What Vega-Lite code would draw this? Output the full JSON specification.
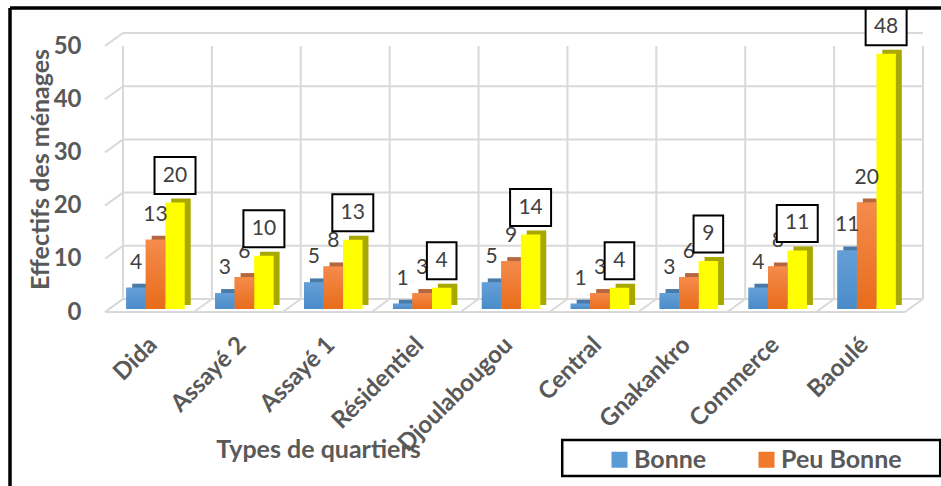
{
"$schema":"https://vega.github.io/schema/vega-lite/v6.json",
"width":800,"height":266,
"autosize":{"type":"none"},
"padding":{"left":105,"top":46,"right":36,"bottom":174},
"background":"white",
"config":{"view":{"stroke":null},"font":"Lato"},
"datasets":{
"boundaries":[{"b":0},{"b":1},{"b":2},{"b":3},{"b":4},{"b":5},{"b":6},{"b":7},{"b":8},{"b":9}],
"levels":[{"v":0,"from":0,"to":9},{"v":10,"from":0,"to":9},{"v":20,"from":0,"to":9},{"v":30,"from":0,"to":9},{"v":40,"from":0,"to":9},{"v":50,"from":0,"to":9}],
"frame":[{"from":0,"to":9,"bottom":0,"top":50}],
"legendbox":[{"b":7,"v":0}],
"rows":[
{"cat":"Dida","serie":"Bonne","n":4},{"cat":"Dida","serie":"Peu Bonne","n":13},{"cat":"Dida","serie":"Série 3","n":20},
{"cat":"Assayé 2","serie":"Bonne","n":3},{"cat":"Assayé 2","serie":"Peu Bonne","n":6},{"cat":"Assayé 2","serie":"Série 3","n":10},
{"cat":"Assayé 1","serie":"Bonne","n":5},{"cat":"Assayé 1","serie":"Peu Bonne","n":8},{"cat":"Assayé 1","serie":"Série 3","n":13},
{"cat":"Résidentiel","serie":"Bonne","n":1},{"cat":"Résidentiel","serie":"Peu Bonne","n":3},{"cat":"Résidentiel","serie":"Série 3","n":4},
{"cat":"Djoulabougou","serie":"Bonne","n":5},{"cat":"Djoulabougou","serie":"Peu Bonne","n":9},{"cat":"Djoulabougou","serie":"Série 3","n":14},
{"cat":"Central","serie":"Bonne","n":1},{"cat":"Central","serie":"Peu Bonne","n":3},{"cat":"Central","serie":"Série 3","n":4},
{"cat":"Gnakankro","serie":"Bonne","n":3},{"cat":"Gnakankro","serie":"Peu Bonne","n":6},{"cat":"Gnakankro","serie":"Série 3","n":9},
{"cat":"Commerce","serie":"Bonne","n":4},{"cat":"Commerce","serie":"Peu Bonne","n":8},{"cat":"Commerce","serie":"Série 3","n":11},
{"cat":"Baoulé","serie":"Bonne","n":11},{"cat":"Baoulé","serie":"Peu Bonne","n":20},{"cat":"Baoulé","serie":"Série 3","n":48}
]},
"resolve":{"scale":{"x":"independent","xOffset":"independent"},"axis":{"y":"independent"}},
"layer":[
{"data":{"name":"legendbox"},"mark":{"type":"point","filled":false,"shape":"M-10.5,-1H10.5V1H-10.5Z","size":1296,"fill":"white","fillOpacity":1,"stroke":"black","strokeWidth":2.5,"opacity":1,"xOffset":24,"yOffset":146},
 "encoding":{"x":{"field":"b","type":"quantitative","scale":{"domain":[0,9],"nice":false,"zero":false},"axis":null},
 "y":{"field":"v","type":"quantitative","scale":{"domain":[0,50],"nice":false},"axis":null}}},
{"data":{"name":"levels"},"mark":{"type":"rule","color":"#D9D9D9","strokeWidth":2,"xOffset":18,"x2Offset":18,"yOffset":-13,"clip":false},
 "encoding":{"x":{"field":"from","type":"quantitative","scale":{"domain":[0,9],"nice":false,"zero":false},"axis":null},"x2":{"field":"to"},
 "y":{"field":"v","type":"quantitative","scale":{"domain":[0,50],"nice":false},"axis":null}}},
{"data":{"name":"boundaries"},"mark":{"type":"rule","color":"#D9D9D9","strokeWidth":2,"xOffset":18,"yOffset":-13},
 "encoding":{"x":{"field":"b","type":"quantitative","scale":{"domain":[0,9],"nice":false,"zero":false},"axis":null},
 "y":{"datum":0,"type":"quantitative","scale":{"domain":[0,50],"nice":false},"axis":null},"y2":{"datum":50}}},
{"data":{"name":"levels"},"mark":{"type":"rule","color":"#D9D9D9","strokeWidth":2,"x2Offset":18,"y2Offset":-13},
 "encoding":{"x":{"field":"from","type":"quantitative","scale":{"domain":[0,9],"nice":false,"zero":false},"axis":null},"x2":{"field":"from"},
 "y":{"field":"v","type":"quantitative","scale":{"domain":[0,50],"nice":false},"axis":null},"y2":{"field":"v"}}},
{"data":{"name":"boundaries"},"mark":{"type":"rule","color":"#D9D9D9","strokeWidth":2,"x2Offset":18,"y2Offset":-13},
 "encoding":{"x":{"field":"b","type":"quantitative","scale":{"domain":[0,9],"nice":false,"zero":false},"axis":null},"x2":{"field":"b"},
 "y":{"datum":0,"type":"quantitative","scale":{"domain":[0,50],"nice":false},"axis":null},"y2":{"datum":0}}},
{"data":{"name":"levels"},"transform":[{"filter":"datum.v==0"}],"mark":{"type":"rule","color":"#D9D9D9","strokeWidth":2},
 "encoding":{"x":{"field":"from","type":"quantitative","scale":{"domain":[0,9],"nice":false,"zero":false},"axis":null},"x2":{"field":"to"},
 "y":{"field":"v","type":"quantitative","scale":{"domain":[0,50],"nice":false},"axis":null}}},
{"data":{"name":"rows"},"mark":{"type":"bar","yOffset":-7},
 "encoding":{
 "x":{"field":"cat","type":"nominal","sort":null,"scale":{"paddingInner":0,"paddingOuter":0},"axis":null},
 "xOffset":{"field":"serie","type":"nominal","scale":{"domain":["Bonne","Peu Bonne","Série 3"],"paddingOuter":0.78,"paddingInner":0,"align":0.895}},
 "y":{"field":"n","type":"quantitative","scale":{"domain":[0,50],"nice":false},"axis":null},
 "fill":{"field":"serie","type":"nominal","legend":null,"scale":{"domain":["Série 3","Peu Bonne","Bonne"],"range":["#A8A800","#B5683F","#4A7BA8"]}}}},
{"data":{"name":"rows"},"mark":{"type":"bar","yOffset":-3},
 "encoding":{
 "x":{"field":"cat","type":"nominal","sort":null,"scale":{"paddingInner":0,"paddingOuter":0},
  "axis":{"title":"Types de quartiers","titleX":213,"titleY":125,"titleFont":"Lato","titleFontSize":25,"titleFontWeight":"bold","titleColor":"#595959","titleAlign":"center","titleAnchor":null,
  "labelAngle":-45,"labelAlign":"right","labelBaseline":"middle","labelFont":"Lato","labelFontSize":24,"labelFontWeight":"bold","labelColor":"#595959","labelOverlap":false,"labelBound":false,"labelFlush":false,"labelLimit":300,"labelPadding":29,"labelOffset":4,"domain":false,"ticks":false,"grid":false,"zindex":1}},
 "xOffset":{"field":"serie","type":"nominal","scale":{"domain":["Bonne","Peu Bonne","Série 3"],"paddingOuter":0.78,"paddingInner":0,"align":0.7}},
 "y":{"field":"n","type":"quantitative","scale":{"domain":[0,50],"nice":false},
  "axis":{"title":"Effectifs des ménages","titleX":-65,"titleY":123,"titleAngle":-90,"titleAlign":"center","titleBaseline":"middle","titleFont":"Lato","titleFontSize":25,"titleFontWeight":"bold","titleColor":"#595959",
  "values":[0,10,20,30,40,50],"labelFont":"Lato","labelFontSize":24,"labelFontWeight":"bold","labelColor":"#595959","labelPadding":24,"domain":false,"ticks":false,"grid":false,"zindex":1}},
 "color":{"field":"serie","type":"nominal","scale":{"domain":["Bonne","Peu Bonne","Série 3"],"range":["#5B9BD5","#F0792B","#FFFF00"]},
  "legend":{"values":["Bonne","Peu Bonne"],"title":null,"orient":"none","legendX":502,"legendY":401,"direction":"horizontal","columns":2,"padding":0,"symbolType":"square","symbolSize":256,"symbolStrokeWidth":0,"symbolOpacity":1,"labelFont":"Lato","labelFontSize":25,"labelFontWeight":"bold","labelColor":"#595959","labelOffset":2,"columnPadding":47,"zindex":2}}}},
{"data":{"name":"rows"},"transform":[{"filter":"datum.serie=='Bonne'"}],"mark":{"type":"bar","yOffset":-3,"color":{"gradient":"linear","x1":0,"y1":0,"x2":0,"y2":1,"stops":[{"offset":0,"color":"#659FD8"},{"offset":1,"color":"#4A8CC8"}]}},
 "encoding":{
 "x":{"field":"cat","type":"nominal","sort":null,"scale":{"domain":["Dida","Assayé 2","Assayé 1","Résidentiel","Djoulabougou","Central","Gnakankro","Commerce","Baoulé"],"paddingInner":0,"paddingOuter":0},"axis":null},
 "xOffset":{"field":"serie","type":"nominal","scale":{"domain":["Bonne","Peu Bonne","Série 3"],"paddingOuter":0.78,"paddingInner":0,"align":0.7}},
 "y":{"field":"n","type":"quantitative","scale":{"domain":[0,50],"nice":false},"axis":null}}},
{"data":{"name":"rows"},"transform":[{"filter":"datum.serie=='Peu Bonne'"}],"mark":{"type":"bar","yOffset":-3,"color":{"gradient":"linear","x1":0,"y1":0,"x2":0,"y2":1,"stops":[{"offset":0,"color":"#F58B4C"},{"offset":1,"color":"#E86C1A"}]}},
 "encoding":{
 "x":{"field":"cat","type":"nominal","sort":null,"scale":{"domain":["Dida","Assayé 2","Assayé 1","Résidentiel","Djoulabougou","Central","Gnakankro","Commerce","Baoulé"],"paddingInner":0,"paddingOuter":0},"axis":null},
 "xOffset":{"field":"serie","type":"nominal","scale":{"domain":["Bonne","Peu Bonne","Série 3"],"paddingOuter":0.78,"paddingInner":0,"align":0.7}},
 "y":{"field":"n","type":"quantitative","scale":{"domain":[0,50],"nice":false},"axis":null}}},
{"data":{"name":"rows"},"transform":[{"filter":"datum.serie!='Série 3'"}],"mark":{"type":"text","font":"Lato","fontSize":21,"color":"#404040","yOffset":-28,"baseline":"middle"},
 "encoding":{
 "x":{"field":"cat","type":"nominal","sort":null,"scale":{"domain":["Dida","Assayé 2","Assayé 1","Résidentiel","Djoulabougou","Central","Gnakankro","Commerce","Baoulé"],"paddingInner":0,"paddingOuter":0},"axis":null},
 "xOffset":{"field":"serie","type":"nominal","scale":{"type":"band","domain":["Bonne","Peu Bonne","Série 3"],"paddingOuter":0.78,"paddingInner":0,"align":0.7}},
 "y":{"field":"n","type":"quantitative","scale":{"domain":[0,50],"nice":false},"axis":null},
 "text":{"field":"n","type":"quantitative"}}},
{"data":{"name":"rows"},"transform":[{"filter":"datum.serie=='Série 3' && datum.n>=10"}],"mark":{"type":"point","filled":false,"shape":"M-1.108,-1H1.108V1H-1.108Z","size":1369,"fill":"white","fillOpacity":1,"stroke":"black","strokeWidth":2,"opacity":1,"yOffset":-30},
 "encoding":{
 "x":{"field":"cat","type":"nominal","sort":null,"scale":{"domain":["Dida","Assayé 2","Assayé 1","Résidentiel","Djoulabougou","Central","Gnakankro","Commerce","Baoulé"],"paddingInner":0,"paddingOuter":0},"axis":null},
 "xOffset":{"field":"serie","type":"nominal","scale":{"type":"band","domain":["Bonne","Peu Bonne","Série 3"],"paddingOuter":0.78,"paddingInner":0,"align":0.7}},
 "y":{"field":"n","type":"quantitative","scale":{"domain":[0,50],"nice":false},"axis":null}}},
{"data":{"name":"rows"},"transform":[{"filter":"datum.serie=='Série 3' && datum.n<10"}],"mark":{"type":"point","filled":false,"shape":"M-0.8,-1H0.8V1H-0.8Z","size":1369,"fill":"white","fillOpacity":1,"stroke":"black","strokeWidth":2,"opacity":1,"yOffset":-30},
 "encoding":{
 "x":{"field":"cat","type":"nominal","sort":null,"scale":{"domain":["Dida","Assayé 2","Assayé 1","Résidentiel","Djoulabougou","Central","Gnakankro","Commerce","Baoulé"],"paddingInner":0,"paddingOuter":0},"axis":null},
 "xOffset":{"field":"serie","type":"nominal","scale":{"type":"band","domain":["Bonne","Peu Bonne","Série 3"],"paddingOuter":0.78,"paddingInner":0,"align":0.7}},
 "y":{"field":"n","type":"quantitative","scale":{"domain":[0,50],"nice":false},"axis":null}}},
{"data":{"name":"rows"},"transform":[{"filter":"datum.serie=='Série 3'"}],"mark":{"type":"text","font":"Lato","fontSize":21,"color":"#404040","yOffset":-30,"baseline":"middle"},
 "encoding":{
 "x":{"field":"cat","type":"nominal","sort":null,"scale":{"domain":["Dida","Assayé 2","Assayé 1","Résidentiel","Djoulabougou","Central","Gnakankro","Commerce","Baoulé"],"paddingInner":0,"paddingOuter":0},"axis":null},
 "xOffset":{"field":"serie","type":"nominal","scale":{"type":"band","domain":["Bonne","Peu Bonne","Série 3"],"paddingOuter":0.78,"paddingInner":0,"align":0.7}},
 "y":{"field":"n","type":"quantitative","scale":{"domain":[0,50],"nice":false},"axis":null},
 "text":{"field":"n","type":"quantitative"}}},
{"data":{"name":"frame"},"mark":{"type":"rule","color":"black","strokeWidth":3.5,"xOffset":-95,"x2Offset":36,"yOffset":-38},
 "encoding":{"x":{"field":"from","type":"quantitative","scale":{"domain":[0,9],"nice":false,"zero":false},"axis":null},"x2":{"field":"to"},
 "y":{"field":"top","type":"quantitative","scale":{"domain":[0,50],"nice":false},"axis":null}}},
{"data":{"name":"frame"},"mark":{"type":"rule","color":"black","strokeWidth":3.5,"xOffset":-95,"yOffset":-38,"y2Offset":174},
 "encoding":{"x":{"field":"from","type":"quantitative","scale":{"domain":[0,9],"nice":false,"zero":false},"axis":null},
 "y":{"field":"top","type":"quantitative","scale":{"domain":[0,50],"nice":false},"axis":null},"y2":{"field":"bottom"}}}
]
}
